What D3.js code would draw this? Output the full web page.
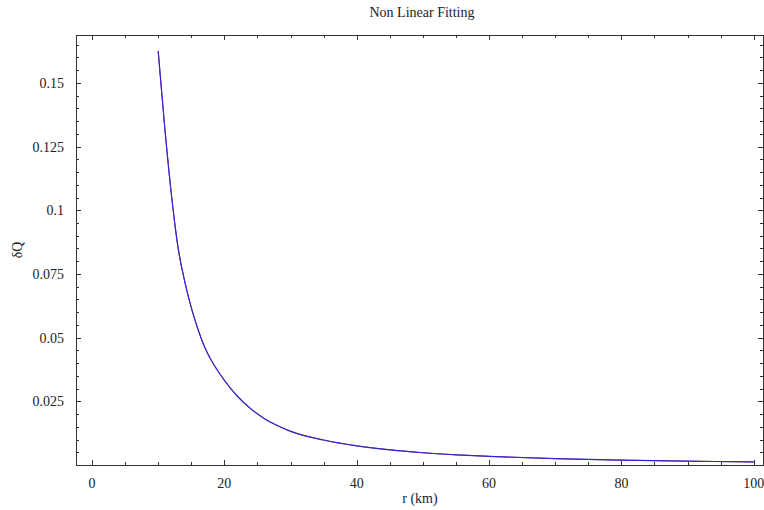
<!DOCTYPE html>
<html>
<head>
<meta charset="utf-8">
<script src="https://cdn.jsdelivr.net/npm/d3@7"></script>
<style>
	body { margin: 0; background: #fff; }
	text { font-family: "Liberation Serif", "DejaVu Serif", serif; fill: #222; }
</style>
</head>
<body>
<svg id="chart" width="764" height="510"></svg>
<script>
//values
var title = "Non Linear Fitting";
var xLabel = "r (km)";
var yLabel = "\u03b4Q";

//measured points (red) and fitted curve (blue)
var dataR  = [10, 11, 12, 13, 14, 15, 16, 17, 18, 19, 20, 22, 24, 26, 28, 30, 35, 40, 45, 50, 55, 60, 70, 80, 90, 100];
var dataDQ = [0.1625, 0.1323, 0.1061, 0.0853, 0.0722, 0.0618, 0.0534, 0.0464, 0.0412, 0.0370, 0.0333, 0.0270, 0.0220, 0.0183, 0.0155, 0.0133, 0.0098, 0.0075, 0.0060, 0.0048, 0.0040, 0.0034, 0.0025, 0.0019, 0.0015, 0.0012];
var fitDQ  = [0.1625, 0.1323, 0.1061, 0.0855, 0.0722, 0.0618, 0.0534, 0.0464, 0.0412, 0.0370, 0.0332, 0.0269, 0.0221, 0.0183, 0.0155, 0.0132, 0.0098, 0.0075, 0.0059, 0.0048, 0.0040, 0.0034, 0.0025, 0.0019, 0.0015, 0.0012];

var xMajor = [0, 20, 40, 60, 80, 100];
var xMinor = d3.range(0, 101, 5);
var yMajor = [0.025, 0.05, 0.075, 0.1, 0.125, 0.15];
var yMinor = d3.range(1, 34).map(function(i) { return i * 0.005; });

var svg = d3.select("#chart");
var mLeft = 76, mRight = 763, mTop = 35, mBottom = 465;

var x = d3.scaleLinear().domain([-2.42, 101.4]).range([mLeft, mRight]);
var y = d3.scaleLinear().domain([0, 0.1688]).range([mBottom, mTop]);

//frame
svg.append("rect")
	.attr("x", mLeft + 0.5).attr("y", mTop + 0.5)
	.attr("width", mRight - mLeft).attr("height", mBottom - mTop)
	.attr("fill", "none").attr("stroke", "#333").attr("stroke-width", 1);

//ticks pointing inward, on all four sides
function ticks(vals, len, isX)
{
	vals.forEach(function(v) {
		if (isX) {
			var px = Math.round(x(v)) + 0.5;
			svg.append("line").attr("x1", px).attr("x2", px).attr("y1", mBottom).attr("y2", mBottom - len).attr("stroke", "#333");
			svg.append("line").attr("x1", px).attr("x2", px).attr("y1", mTop).attr("y2", mTop + len).attr("stroke", "#333");
		} else {
			var py = Math.round(y(v)) + 0.5;
			svg.append("line").attr("x1", mLeft).attr("x2", mLeft + len).attr("y1", py).attr("y2", py).attr("stroke", "#333");
			svg.append("line").attr("x1", mRight).attr("x2", mRight - len).attr("y1", py).attr("y2", py).attr("stroke", "#333");
		}
	});
}
ticks(xMinor.filter(function(v) { return xMajor.indexOf(v) < 0; }), 3, true);
ticks(xMajor, 5, true);
ticks(yMinor, 3, false);
ticks(yMajor, 5, false);

//tick labels
svg.selectAll(".xl").data(xMajor).enter().append("text")
	.attr("x", function(d) { return x(d); })
	.attr("y", 488)
	.attr("text-anchor", "middle")
	.attr("font-size", 14)
	.text(function(d) { return d; });

svg.selectAll(".yl").data(yMajor).enter().append("text")
	.attr("x", 64)
	.attr("y", function(d) { return y(d) + 5; })
	.attr("text-anchor", "end")
	.attr("font-size", 14)
	.text(function(d) { return d; });

//labels
svg.append("text").attr("x", 422).attr("y", 17).attr("text-anchor", "middle").attr("font-size", 14).text(title);
svg.append("text").attr("x", 420).attr("y", 503).attr("text-anchor", "middle").attr("font-size", 14).text(xLabel);
svg.append("text")
	.attr("transform", "translate(22,250) rotate(-90)")
	.attr("text-anchor", "middle")
	.attr("font-size", 14)
	.text(yLabel);

//curves
var line = d3.line().curve(d3.curveMonotoneX);

svg.append("path")
	.attr("d", line(dataR.map(function(r, i) { return [x(r), y(dataDQ[i])]; })))
	.attr("fill", "none").attr("stroke", "#c8104a").attr("stroke-width", 1);

svg.append("path")
	.attr("d", line(dataR.map(function(r, i) { return [x(r), y(fitDQ[i])]; })))
	.attr("fill", "none").attr("stroke", "#2a2ad2").attr("stroke-width", 1.2);
</script>
</body>
</html>
